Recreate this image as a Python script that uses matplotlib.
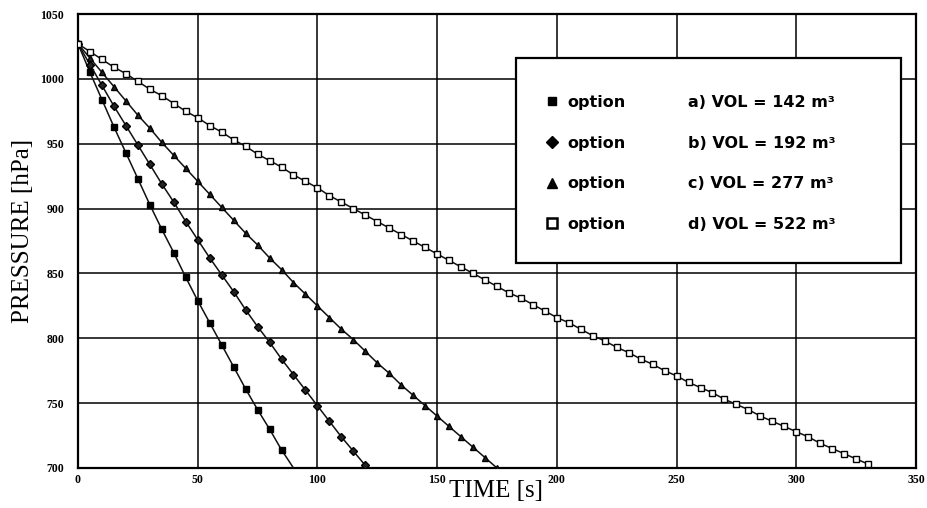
import matplotlib
matplotlib.use("Agg")
import matplotlib.pyplot as plt
from matplotlib.lines import Line2D
from matplotlib.patches import Rectangle

# ---------------- data ----------------
time_a = [0, 5, 10, 15, 20, 25, 30, 35, 40, 45, 50, 55, 60, 65, 70, 75, 80, 85, 90]
pres_a = [1027, 1005, 984, 963, 943, 923, 903, 884, 866, 847, 829, 812, 795, 778,
          761, 745, 730, 714, 700]

time_b = [0, 5, 10, 15, 20, 25, 30, 35, 40, 45, 50, 55, 60, 65, 70, 75, 80, 85, 90,
          95, 100, 105, 110, 115, 120]
pres_b = [1027, 1011, 995, 979, 964, 949, 934, 919, 905, 890, 876, 862, 849, 836,
          822, 809, 797, 784, 772, 760, 748, 736, 724, 713, 702]

time_c = [0, 5, 10, 15, 20, 25, 30, 35, 40, 45, 50, 55, 60, 65, 70, 75, 80, 85, 90,
          95, 100, 105, 110, 115, 120, 125, 130, 135, 140, 145, 150, 155, 160, 165,
          170, 175]
pres_c = [1027, 1016, 1005, 994, 983, 972, 962, 951, 941, 931, 921, 911, 901, 891,
          881, 872, 862, 853, 843, 834, 825, 816, 807, 799, 790, 781, 773, 764, 756,
          748, 740, 732, 724, 716, 708, 700]

time_d = [0, 5, 10, 15, 20, 25, 30, 35, 40, 45, 50, 55, 60, 65, 70, 75, 80, 85, 90,
          95, 100, 105, 110, 115, 120, 125, 130, 135, 140, 145, 150, 155, 160, 165,
          170, 175, 180, 185, 190, 195, 200, 205, 210, 215, 220, 225, 230, 235, 240,
          245, 250, 255, 260, 265, 270, 275, 280, 285, 290, 295, 300, 305, 310, 315,
          320, 325, 330]
pres_d = [1027, 1021, 1015, 1009, 1004, 998, 992, 987, 981, 975, 970, 964, 959, 953,
          948, 942, 937, 932, 926, 921, 916, 910, 905, 900, 895, 890, 885, 880, 875,
          870, 865, 860, 855, 850, 845, 840, 835, 831, 826, 821, 816, 812, 807, 802,
          798, 793, 789, 784, 780, 775, 771, 766, 762, 758, 753, 749, 745, 740, 736,
          732, 728, 724, 719, 715, 711, 707, 703]

x_ticks = [0, 50, 100, 150, 200, 250, 300, 350]
y_ticks = [700, 750, 800, 850, 900, 950, 1000, 1050]

legend_left = ["option", "option", "option", "option"]
legend_right = ["a) VOL = 142 m³", "b) VOL = 192 m³", "c) VOL = 277 m³", "d) VOL = 522 m³"]

# ---------------- figure ----------------
fig = plt.figure(figsize=(9.28, 5.08), dpi=100)
ax = fig.add_axes([78 / 928, 1 - 468 / 508, (916 - 78) / 928, (468 - 14) / 508])

ax.set_xlim(0, 350)
ax.set_ylim(700, 1050)
ax.set_xticks(x_ticks)
ax.set_yticks(y_ticks)
ax.grid(True, color="black", linewidth=1.1, zorder=0)
ax.set_axisbelow(True)
for s in ax.spines.values():
    s.set_linewidth(1.6)
    s.set_color("black")

tick_font = dict(family="Liberation Serif", weight="bold", size=8.5)
ax.tick_params(length=0, pad=10)
ax.set_xticklabels([str(v) for v in x_ticks], fontdict=tick_font)
ax.set_yticklabels([str(v) for v in y_ticks], fontdict=tick_font)
ax.tick_params(axis="x", pad=4)

ax.set_xlabel("TIME [s]", family="Liberation Serif", size=18)
ax.set_ylabel("PRESSURE [hPa]", family="Liberation Serif", size=18)
ax.xaxis.set_label_coords(0.499, -0.026)
ax.yaxis.set_label_coords(-0.052, 0.522)

lc = "#111111"
ax.plot(time_a, pres_a, color=lc, lw=1.1, marker="s", ms=4.4, mfc="black",
        mec="black", markevery=slice(0, len(time_a) - 1), zorder=3)
ax.plot(time_b, pres_b, color=lc, lw=1.1, marker="D", ms=4.2, mfc="#222222",
        mec="black", zorder=3)
ax.plot(time_c, pres_c, color=lc, lw=1.1, marker="^", ms=4.7, mfc="#222222",
        mec="black", zorder=3)
ax.plot(time_d, pres_d, color=lc, lw=1.1, marker="s", ms=4.8, mfc="white",
        mec="black", mew=1.0, zorder=3)

# ---------------- legend ----------------
box = Rectangle(((516 - 78) / 838, (468 - 263) / 454), (901 - 516) / 838,
                (263 - 58) / 454, transform=ax.transAxes, facecolor="white",
                edgecolor="black", linewidth=1.6, zorder=5)
ax.add_patch(box)

handles = [
    Line2D([], [], ls="none", marker="s", ms=6.0, mfc="black", mec="black"),
    Line2D([], [], ls="none", marker="D", ms=6.0, mfc="black", mec="black"),
    Line2D([], [], ls="none", marker="^", ms=7.0, mfc="black", mec="black"),
    Line2D([], [], ls="none", marker="s", ms=6.5, mfc="white", mec="black", mew=1.8),
]
leg_font = dict(family="DejaVu Sans", weight="bold", size=11.5)
top_y = (468 - 95) / 454
leg1 = ax.legend(handles, legend_left, loc="upper left",
                 bbox_to_anchor=((544 - 78) / 838, top_y), frameon=False,
                 borderpad=0, borderaxespad=0, handlelength=1.0,
                 handletextpad=0.45, labelspacing=1.6, prop=leg_font)
leg1.set_zorder(6)
ax.add_artist(leg1)
blank = [Line2D([], [], ls="none") for _ in legend_right]
leg2 = ax.legend(blank, legend_right, loc="upper left",
                 bbox_to_anchor=((688 - 78) / 838, top_y), frameon=False,
                 borderpad=0, borderaxespad=0, handlelength=0, handletextpad=0,
                 labelspacing=1.6, prop=leg_font)
leg2.set_zorder(6)

fig.savefig("out.png", dpi=100, facecolor="white")
